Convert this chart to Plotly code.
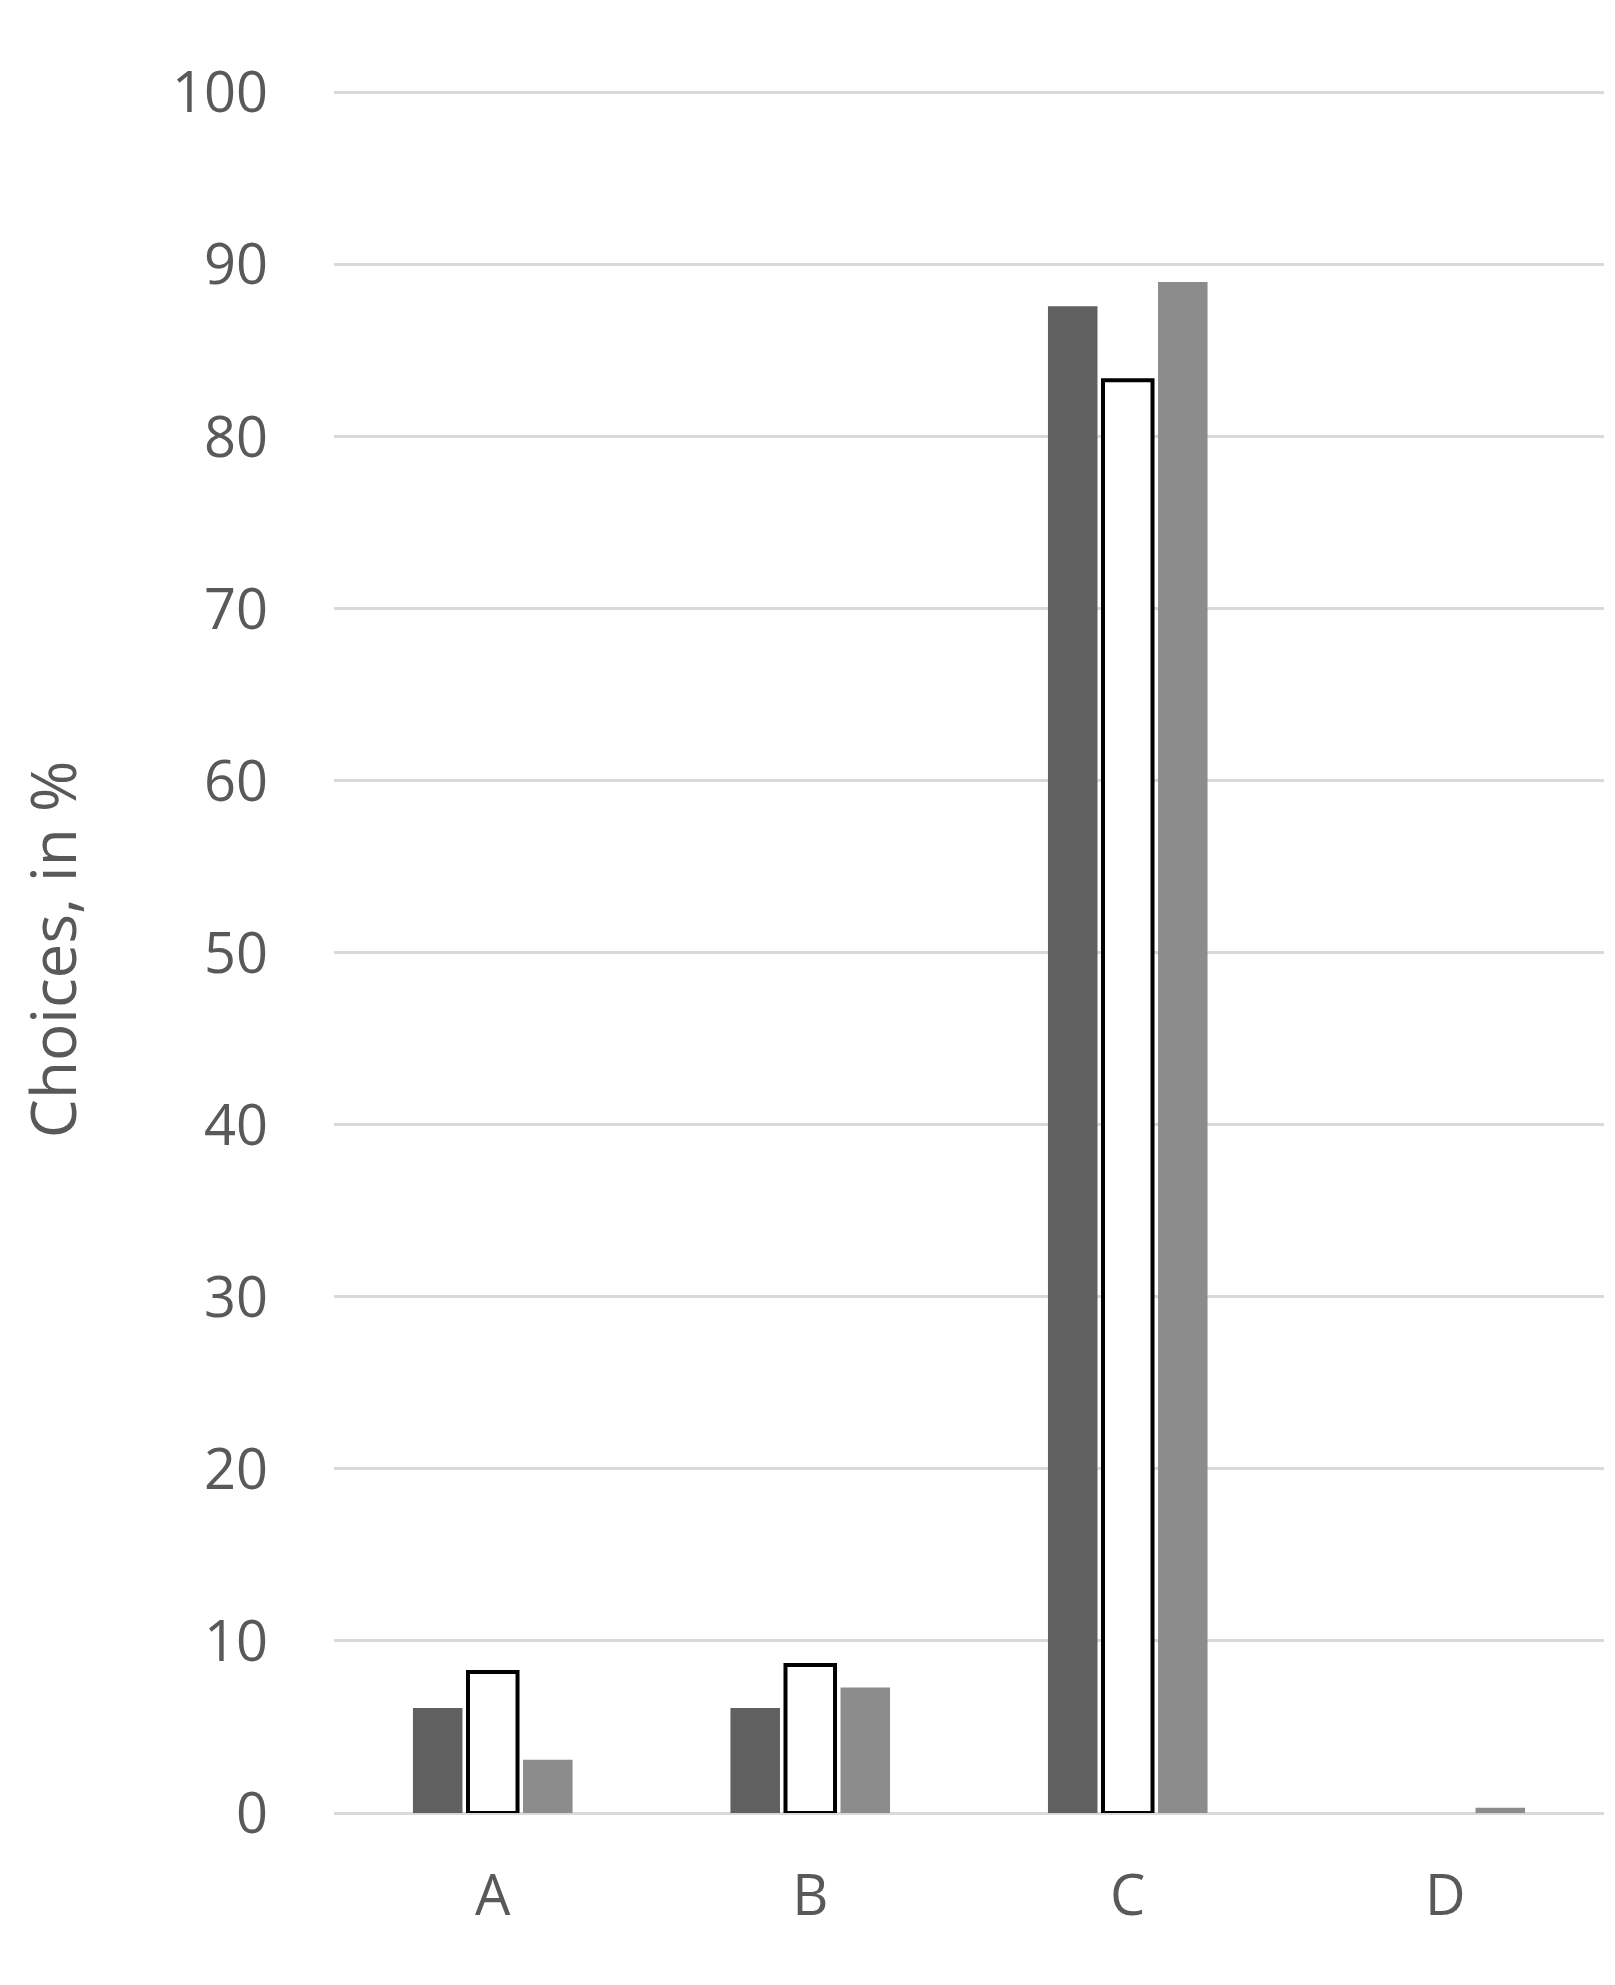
import plotly.graph_objects as go

categories = ["A", "B", "C", "D"]
series1 = [6.1, 6.1, 87.6, None]
series2 = [8.2, 8.6, 83.3, None]
series3 = [3.1, 7.3, 89.0, 0.3]
yticks = [0, 10, 20, 30, 40, 50, 60, 70, 80, 90, 100]

fig = go.Figure()
fig.add_bar(x=categories, y=series1, marker=dict(color="#606060", line=dict(width=0)))
fig.add_bar(x=categories, y=series2, marker=dict(color="white", line=dict(color="black", width=4)))
fig.add_bar(x=categories, y=series3, marker=dict(color="#8c8c8c", line=dict(width=0)))

fig.update_layout(
    width=1615, height=1985, showlegend=False,
    plot_bgcolor="white", paper_bgcolor="white",
    barmode="group", bargap=0.48, bargroupgap=0.1,
    margin=dict(l=326, r=19, t=78, b=180),
    font=dict(family="Open Sans, DejaVu Sans", color="#595959", size=56),
    xaxis=dict(showgrid=False, showline=False, ticks="", tickfont=dict(size=56),
               ticklabelstandoff=45),
    yaxis=dict(range=[0, 100.4], tickvals=yticks, showgrid=True, gridcolor="#d9d9d9",
               gridwidth=3, zeroline=True, zerolinecolor="#d9d9d9", zerolinewidth=3,
               ticks="", ticklabelstandoff=65,
               title=dict(text="Choices, in %", font=dict(size=62), standoff=75)),
)
fig.write_html("out.html")
